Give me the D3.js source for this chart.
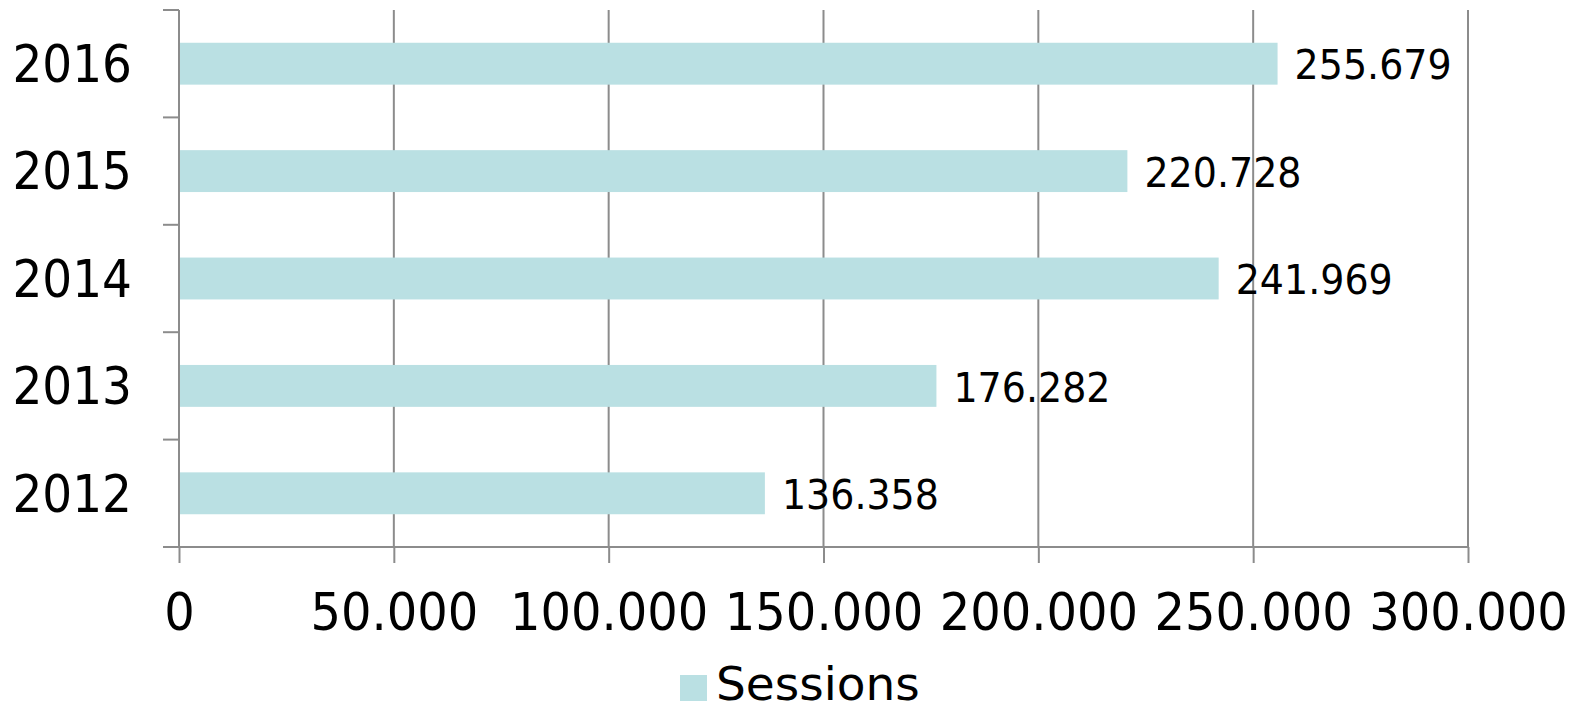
<!DOCTYPE html>
<html>
<head>
<meta charset="utf-8">
<script src="https://cdn.jsdelivr.net/npm/d3@7"></script>
<style>
  body { margin: 0; background: #fff; }
  svg { display: block; }
  text { font-family: "DejaVu Sans", Verdana, sans-serif; fill: #000; }
</style>
</head>
<body>
<svg id="chart" width="1581" height="711"></svg>
<script>
const categories = ["2012", "2013", "2014", "2015", "2016"];
const sessions = [136358, 176282, 241969, 220728, 255679];
const xTickValues = [0, 50000, 100000, 150000, 200000, 250000, 300000];
const seriesName = "Sessions";

(function () {
const fmt = v => d3.format(",")(v).replace(/,/g, ".");

const svg = d3.select("#chart");
const pLeft = 179, pRight = 1468, pTop = 10, pBottom = 547;
const barColor = "#bae0e3";
const gridColor = "#8c8c8c";
const stretch = 1.08;

const x = d3.scaleLinear().domain([0, 300000]).range([pLeft, pRight]);
const y = d3.scaleBand().domain(categories.slice().reverse()).range([pTop, pBottom]).paddingInner(0.61).paddingOuter(0.305);
const yBand = d3.scaleBand().domain(categories.slice().reverse()).range([pTop, pBottom]);

// vertical gridlines
svg.append("g").selectAll("line").data(xTickValues.filter(d => d > 0)).join("line")
  .attr("x1", d => x(d)).attr("x2", d => x(d))
  .attr("y1", pTop).attr("y2", pBottom)
  .attr("stroke", gridColor).attr("stroke-width", 2);

// bars
svg.append("g").selectAll("rect").data(categories).join("rect")
  .attr("x", x(0) + 1)
  .attr("y", (d) => y(d))
  .attr("width", (d, i) => x(sessions[i]) - x(0) - 1)
  .attr("height", y.bandwidth())
  .attr("fill", barColor);

// x axis
const xAxis = d3.axisBottom(x).tickValues(xTickValues).tickFormat(fmt).tickSize(16).tickPadding(22);
const gx = svg.append("g").attr("transform", `translate(0,${pBottom})`).call(xAxis);
gx.select(".domain").attr("d", `M${pLeft - 16},0H${pRight}`).attr("stroke", gridColor).attr("stroke-width", 2);
gx.selectAll(".tick line").attr("stroke", gridColor).attr("stroke-width", 2);
gx.selectAll(".tick text")
  .attr("font-size", 48).attr("font-family", "DejaVu Sans").attr("fill", "#000")
  .attr("y", 0).attr("dy", "0.73em")
  .attr("transform", `translate(0,45) scale(1,${stretch})`);

// y axis
const gy = svg.append("g").attr("transform", `translate(${pLeft},0)`);
gy.append("line").attr("x1", 0).attr("x2", 0).attr("y1", pTop).attr("y2", pBottom)
  .attr("stroke", gridColor).attr("stroke-width", 2);
const bounds = categories.map(c => yBand(c)).concat([pBottom]);
gy.selectAll("line.tk").data(bounds).join("line").attr("class", "tk")
  .attr("x1", -16).attr("x2", 0).attr("y1", d => d).attr("y2", d => d)
  .attr("stroke", gridColor).attr("stroke-width", 2);
gy.selectAll("text").data(categories).join("text")
  .attr("transform", d => `translate(-47,${yBand(d) + yBand.bandwidth() / 2}) scale(1,${stretch})`)
  .attr("text-anchor", "end")
  .attr("dy", "0.36em")
  .attr("font-size", 47)
  .text(d => d);

// value labels
svg.append("g").selectAll("text").data(categories).join("text")
  .attr("transform", (d, i) => `translate(${x(sessions[i]) + 17},${yBand(d) + yBand.bandwidth() / 2 + 1}) scale(1,${stretch})`)
  .attr("dy", "0.36em")
  .attr("font-size", 38)
  .text((d, i) => fmt(sessions[i]));

// legend
const lg = svg.append("g");
lg.append("rect").attr("x", 680).attr("y", 675).attr("width", 27).attr("height", 26).attr("fill", barColor);
lg.append("text").attr("x", 716).attr("y", 700).attr("font-size", 47).text(seriesName);
})();
</script>
</body>
</html>
